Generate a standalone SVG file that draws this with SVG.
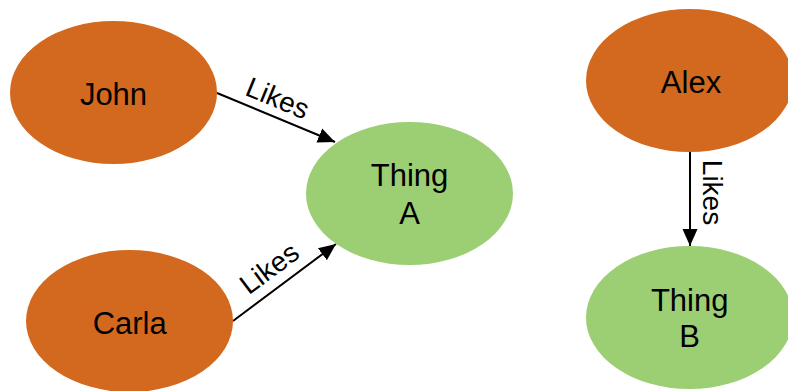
<svg xmlns="http://www.w3.org/2000/svg" width="788" height="391" viewBox="0 0 788 391">
<defs>
<style>
.person{fill:#D2691E}
.thing{fill:#9CCF74}
.lbl{font-family:"Liberation Sans",Arial,sans-serif;font-size:31px;fill:#000;text-anchor:middle}
.elbl{font-family:"Liberation Sans",Arial,sans-serif;font-size:28px;fill:#000;text-anchor:middle}
.edge{stroke:#000;stroke-width:2;fill:none;marker-end:url(#arr)}
</style>
<marker id="arr" markerUnits="userSpaceOnUse" markerWidth="17" markerHeight="17" viewBox="0 0 17 17" refX="17" refY="8.5" orient="auto">
<path d="M0,1 L17,8.5 L0,16 Z" fill="#000"/>
</marker>
</defs>
<rect width="788" height="391" fill="#fff"/>
<g id="connectors">
<g id="e1"><line class="edge" x1="217" y1="93" x2="335" y2="142"/><text class="elbl" transform="translate(274,107) rotate(22.5)">Likes</text></g>
<g id="e2"><line class="edge" x1="233" y1="321" x2="336" y2="244"/><text class="elbl" transform="translate(275,276) rotate(-36.8)">Likes</text></g>
<g id="e3"><line class="edge" x1="690" y1="152" x2="690" y2="246"/><text class="elbl" transform="translate(703,192.5) rotate(90)">Likes</text></g>
</g>
<g id="john"><ellipse class="person" cx="113.5" cy="92.5" rx="103.5" ry="71.5"/><text class="lbl" x="113.5" y="105">John</text></g>
<g id="carla"><ellipse class="person" cx="129.5" cy="321" rx="103.5" ry="71"/><text class="lbl" x="129.7" y="334">Carla</text></g>
<g id="thingA"><ellipse class="thing" cx="409.5" cy="193.5" rx="103.5" ry="71.5"/><text class="lbl" x="409.5" y="186">Thing</text><text class="lbl" x="409.5" y="224">A</text></g>
<g id="alex"><ellipse class="person" cx="689.5" cy="80.5" rx="103.5" ry="71.5"/><text class="lbl" x="691" y="93.3">Alex</text></g>
<g id="thingB"><ellipse class="thing" cx="689.5" cy="317.5" rx="103.5" ry="71.5"/><text class="lbl" x="689.7" y="311">Thing</text><text class="lbl" x="689.7" y="347">B</text></g>
</svg>
